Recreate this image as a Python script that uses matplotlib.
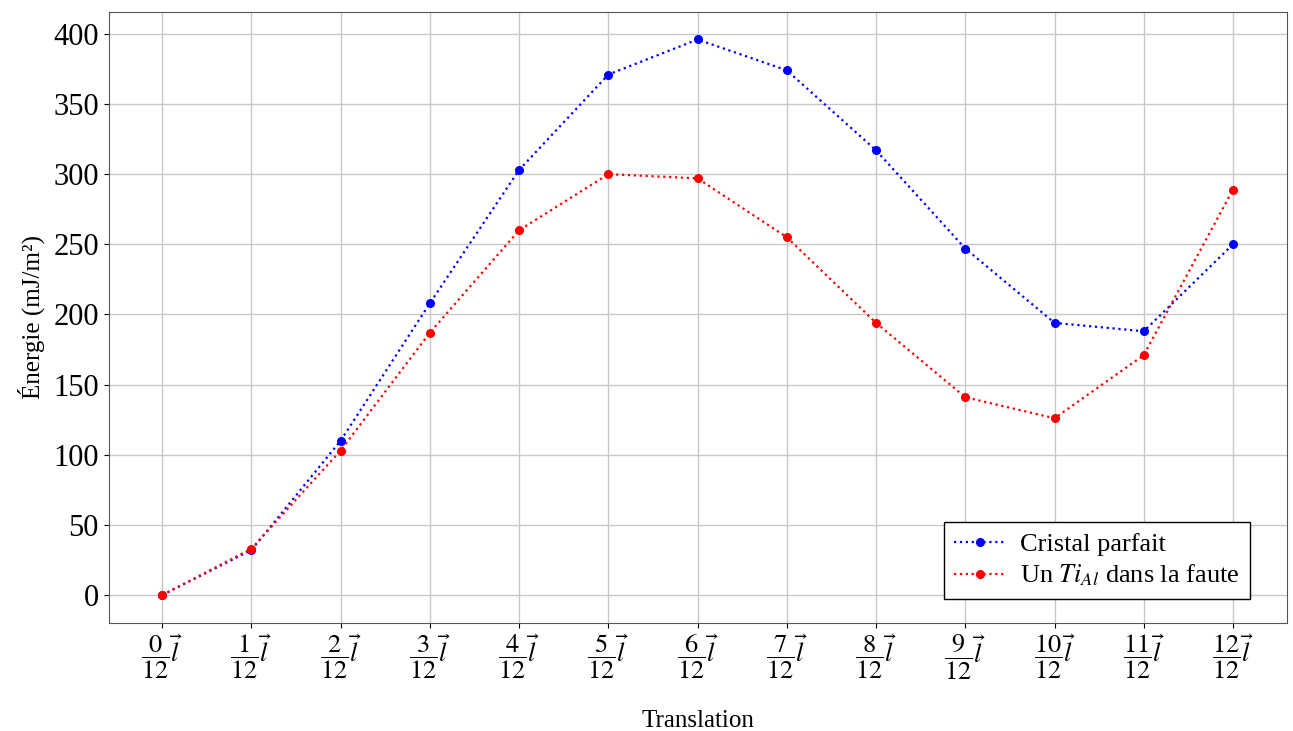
import numpy as np
import matplotlib
matplotlib.use('Agg')
import matplotlib.pyplot as plt

plt.rcParams['font.family'] = ['Liberation Serif', 'DejaVu Serif']
plt.rcParams['mathtext.fontset'] = 'stix'

# Données
translations = list(range(13))
cristal_parfait = [0, 32, 110, 208, 303, 371, 396, 374, 317, 247, 194, 188, 250]
ti_al_faute = [0, 33, 103, 187, 260, 300, 297, 255, 194, 141, 126, 171, 289]
tick_labels = [r'$\dfrac{%d}{12}\vec{l}$' % i for i in translations]

fig, ax = plt.subplots(figsize=(12.93, 7.31), dpi=100)
fig.subplots_adjust(left=0.084, right=0.995, top=0.984, bottom=0.148)

ax.plot(translations, cristal_parfait, ':o', color='blue', markersize=5.5, linewidth=1.6,
        label='Cristal parfait')
ax.plot(translations, ti_al_faute, ':o', color='red', markersize=5.5, linewidth=1.6,
        label=r'Un $Ti_{Al}$ dans la faute')

ax.set_xticks(translations)
ax.set_xticklabels(tick_labels, fontsize=19)
ax.tick_params(axis='y', labelsize=22)
ax.set_xlabel('Translation', fontsize=18, labelpad=20)
ax.set_ylabel('Énergie (mJ/m²)', fontsize=18, labelpad=6)
ax.grid(True, color='#c8c8c8', linewidth=1)
ax.set_axisbelow(True)
for s in ax.spines.values():
    s.set_color('#555555')

leg = ax.legend(loc='lower right', bbox_to_anchor=(0.969, 0.039), borderaxespad=0,
                fontsize=19, fancybox=False, edgecolor='black', framealpha=1,
                handlelength=2, handletextpad=0.5, borderpad=0.4, labelspacing=0.25)
leg.get_frame().set_linewidth(1)

plt.savefig('out.png', dpi=100)
